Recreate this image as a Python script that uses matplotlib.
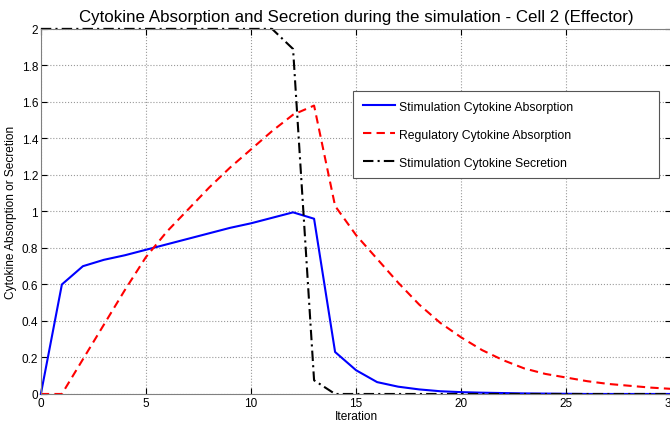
import matplotlib
matplotlib.use("Agg")
import matplotlib.pyplot as plt

plt.rcParams['font.family'] = ['Liberation Sans', 'DejaVu Sans']

iteration = list(range(31))
stim_absorption = [0.0, 0.60, 0.70, 0.735, 0.76, 0.79, 0.82, 0.85, 0.88, 0.91, 0.935,
                   0.965, 0.995, 0.96, 0.23, 0.13, 0.065, 0.04, 0.025, 0.015, 0.01,
                   0.007, 0.005, 0.003, 0.002, 0.001, 0.0, 0.0, 0.0, 0.0, 0.0]
reg_absorption = [0.0, 0.0, 0.19, 0.38, 0.57, 0.75, 0.89, 1.01, 1.13, 1.24, 1.34,
                  1.44, 1.53, 1.58, 1.03, 0.87, 0.74, 0.61, 0.49, 0.39, 0.31,
                  0.24, 0.185, 0.14, 0.11, 0.09, 0.07, 0.055, 0.045, 0.035, 0.028]
stim_secretion = [2.0, 2.0, 2.0, 2.0, 2.0, 2.0, 2.0, 2.0, 2.0, 2.0, 2.0,
                  2.0, 1.89, 0.075, 0.0, 0.0, 0.0, 0.0, 0.0, 0.0, 0.0,
                  0.0, 0.0, 0.0, 0.0, 0.0, 0.0, 0.0, 0.0, 0.0, 0.0]
labels = ['Stimulation Cytokine Absorption', 'Regulatory Cytokine Absorption',
          'Stimulation Cytokine Secretion']

fig = plt.figure(figsize=(6.7, 4.27), dpi=100)
ax = fig.add_axes([0.061, 0.075, 0.941, 0.855])

ax.plot(iteration, stim_absorption, color='#0000ff', lw=1.5, label=labels[0], clip_on=False)
ax.plot(iteration, reg_absorption, color='#ff0000', lw=1.5, ls=(0, (4, 2.5)), label=labels[1],
        clip_on=False)
ax.plot(iteration, stim_secretion, color='black', lw=1.5, ls=(0, (5, 2, 1, 2)), label=labels[2],
        clip_on=False)

ax.set_xlim(0, 30)
ax.set_ylim(0, 2)
ax.set_xticks(range(0, 31, 5))
ax.set_yticks([0, 0.2, 0.4, 0.6, 0.8, 1, 1.2, 1.4, 1.6, 1.8, 2])
ax.set_yticklabels(['0', '0.2', '0.4', '0.6', '0.8', '1', '1.2', '1.4', '1.6', '1.8', '2'])
ax.grid(True, ls=':', color='#999999', lw=0.8)
ax.tick_params(direction='in', top=True, right=True, labelsize=8.5, length=4, pad=2)
for s in ax.spines.values():
    s.set_color('#808080')

ax.set_title('Cytokine Absorption and Secretion during the simulation - Cell 2 (Effector)',
             fontsize=12.2, pad=6)
ax.set_xlabel('Iteration', fontsize=8.6, labelpad=1)
ax.set_ylabel('Cytokine Absorption or Secretion', fontsize=8.6, labelpad=3)

leg = ax.legend(loc='upper left', bbox_to_anchor=(0.495, 0.83, 0.485, 0.0), mode='expand',
                fontsize=8.8, fancybox=False, framealpha=1, edgecolor='#555555',
                handlelength=2.6, labelspacing=1.3, borderpad=0.8, handletextpad=0.4,
                borderaxespad=0)
leg.get_frame().set_linewidth(0.8)

fig.savefig('out.png', dpi=100)
